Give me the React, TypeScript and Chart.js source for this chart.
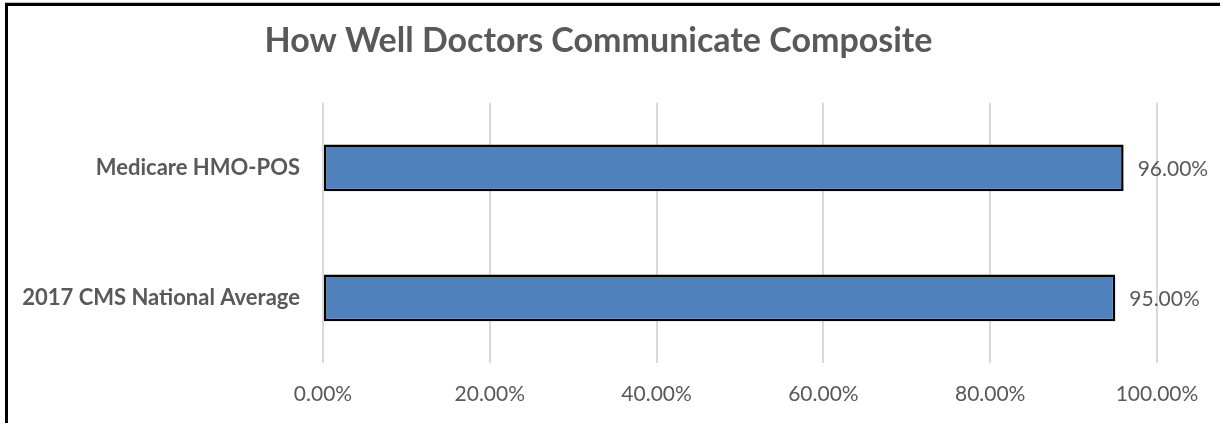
import React, { useEffect, useRef } from "react";
import { Chart, registerables } from "chart.js";

Chart.register(...registerables);

const TITLE = "How Well Doctors Communicate Composite";
const categories = ["Medicare HMO-POS", "2017 CMS National Average"];
const values = [96, 95];
const xTicks = [0, 20, 40, 60, 80, 100];

const FONT = "Lato, 'Open Sans', sans-serif";
const GRAY = "#595959";

const dataLabelPlugin = {
  id: "dataLabels",
  afterDatasetsDraw(chart: any) {
    const ctx = chart.ctx;
    const meta = chart.getDatasetMeta(0);
    ctx.save();
    ctx.font = `21px ${FONT}`;
    ctx.fillStyle = GRAY;
    ctx.textAlign = "left";
    ctx.textBaseline = "middle";
    meta.data.forEach((el: any, i: number) => {
      const v = chart.data.datasets[0].data[i] as number;
      ctx.fillText(v.toFixed(2) + "%", el.x + 14, el.y + 1);
    });
    ctx.restore();
  },
};

// let the category labels use the space left of the (title-centering) padding
const widenLabelArea = {
  id: "widenLabelArea",
  afterLayout(chart: any) {
    const y = chart.scales.y;
    if (y) y.left = 0;
  },
};

export default function App() {
  const ref = useRef<HTMLCanvasElement | null>(null);
  useEffect(() => {
    if (!ref.current) return;
    const chart = new Chart(ref.current, {
      type: "bar",
      data: {
        labels: categories,
        datasets: [
          {
            data: values,
            backgroundColor: "#4F81BD",
            borderColor: "#000000",
            borderWidth: 2.5,
            borderSkipped: false,
            categoryPercentage: 1,
            barPercentage: 0.36,
          },
        ],
      },
      options: {
        indexAxis: "y",
        animation: false,
        responsive: false,
        maintainAspectRatio: false,
        layout: { padding: { left: 40, right: 63, top: 0, bottom: 0 } },
        plugins: {
          legend: { display: false },
          tooltip: { enabled: false },
          title: {
            display: true,
            text: TITLE,
            color: GRAY,
            font: { family: FONT, size: 34, weight: "bold", lineHeight: 1.2 },
            padding: { top: 21, bottom: 41 },
          },
        },
        scales: {
          x: {
            min: 0,
            max: 100,
            afterBuildTicks(axis: any) {
              axis.ticks = xTicks.map((v) => ({ value: v }));
            },
            afterFit(axis: any) {
              axis.height = 60;
            },
            grid: { color: "#D9D9D9", lineWidth: 2, drawTicks: false },
            border: { display: false },
            ticks: {
              padding: 19,
              color: GRAY,
              font: { family: FONT, size: 21 },
              maxRotation: 0,
              callback: (v: any) => Number(v).toFixed(2) + "%",
            },
          },
          y: {
            afterFit(axis: any) {
              axis.width = 283;
            },
            grid: { display: false, drawTicks: false },
            border: { display: false },
            ticks: {
              padding: 23,
              color: GRAY,
              font: { family: FONT, size: 22, weight: "bold" },
            },
          },
        },
      },
      plugins: [dataLabelPlugin, widenLabelArea],
    });
    return () => chart.destroy();
  }, []);

  return (
    <div style={{ position: "fixed", left: 0, top: 0, width: 1220, height: 423, background: "#fff" }}>
      <canvas ref={ref} width={1220} height={423} style={{ position: "absolute", left: 0, top: 0, width: 1220, height: 423 }} />
      <div
        style={{
          position: "absolute",
          left: 5,
          top: 2,
          width: 1300,
          height: 500,
          borderTop: "1px solid #bfbfbf",
          pointerEvents: "none",
        }}
      />
      <div
        style={{
          position: "absolute",
          left: 5,
          top: 3,
          width: 1300,
          height: 500,
          borderLeft: "3px solid #000",
          borderTop: "3px solid #000",
          pointerEvents: "none",
        }}
      />
    </div>
  );
}
